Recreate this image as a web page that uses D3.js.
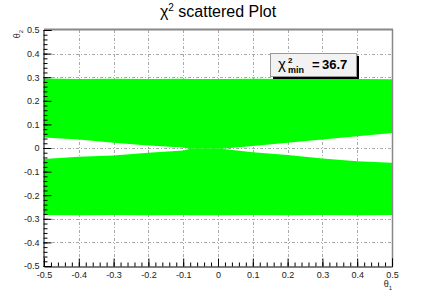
<!DOCTYPE html>
<html>
<head>
<meta charset="utf-8">
<script src="https://cdn.jsdelivr.net/npm/d3@7"></script>
<style>
  html, body { margin: 0; padding: 0; background: #fff; }
  svg { display: block; font-family: "Liberation Sans", Arial, sans-serif; }
</style>
</head>
<body>
<svg id="chart" width="436" height="297"></svg>
<script>
// ---- data ----
const theta1      = [-0.5, -0.4, -0.3, -0.2, -0.1, -0.08, 0.01, 0.1, 0.2, 0.3, 0.4, 0.5];
const upperTop    = [0.294, 0.292, 0.293, 0.292, 0.293, 0.292, 0.292, 0.293, 0.292, 0.293, 0.292, 0.291];
const upperLow    = [0.044, 0.036, 0.022, 0.011, 0.002, -0.003, -0.003, 0.008, 0.022, 0.036, 0.050, 0.064];
const lowerHigh   = [-0.047, -0.037, -0.032, -0.020, -0.011, -0.003, -0.003, -0.018, -0.030, -0.044, -0.056, -0.063];
const lowerBottom = [-0.284, -0.285, -0.284, -0.285, -0.284, -0.285, -0.285, -0.284, -0.285, -0.284, -0.285, -0.284];
const majorTicks  = [-0.5, -0.4, -0.3, -0.2, -0.1, 0, 0.1, 0.2, 0.3, 0.4, 0.5];
const chiMin      = "36.7";
const titleText   = "scattered Plot";

// ---- layout ----
const svg = d3.select("#chart");
const X0 = 44, X1 = 392, Y0 = 30, Y1 = 266;
const x = d3.scaleLinear().domain([-0.5, 0.5]).range([X0, X1]);
const y = d3.scaleLinear().domain([-0.5, 0.5]).range([Y1, Y0]);
const fmt = d => { const v = Math.round(d * 10) / 10; return v === 0 ? "0" : String(v); };
const minorTicks = d3.range(-50, 51, 2).map(v => v / 100);

// grid
const grid = svg.append("g").attr("stroke", "#aaa").attr("stroke-width", 1)
  .attr("stroke-dasharray", "3,2,1,2");
majorTicks.slice(1, -1).forEach(t => {
  grid.append("line").attr("x1", Math.round(x(t)) + 0.5).attr("x2", Math.round(x(t)) + 0.5)
    .attr("y1", Y0).attr("y2", Y1);
  grid.append("line").attr("y1", Math.round(y(t)) + 0.5).attr("y2", Math.round(y(t)) + 0.5)
    .attr("x1", X0).attr("x2", X1);
});

// bands
const rows = theta1.map((t, i) => ({ t, ut: upperTop[i], ul: upperLow[i], lh: lowerHigh[i], lb: lowerBottom[i] }));
const upper = d3.area().x(d => x(d.t)).y0(d => y(d.ul)).y1(d => y(d.ut));
const lower = d3.area().x(d => x(d.t)).y0(d => y(d.lb)).y1(d => y(d.lh));
svg.append("path").datum(rows).attr("d", upper).attr("fill", "#00ff00");
svg.append("path").datum(rows).attr("d", lower).attr("fill", "#00ff00");

// frame (top/right)
svg.append("line").attr("x1", X0).attr("x2", X1 + 1).attr("y1", Y0 - 0.5).attr("y2", Y0 - 0.5)
  .attr("stroke", "#888").attr("stroke-width", 2);
svg.append("line").attr("x1", X1 + 0.5).attr("x2", X1 + 0.5).attr("y1", Y0 - 1).attr("y2", Y1)
  .attr("stroke", "#888").attr("stroke-width", 1.5);

// axes
const xAxis = svg.append("g").attr("transform", `translate(0,${Y1 + 0.5})`)
  .call(d3.axisBottom(x).tickValues(majorTicks).tickSize(-8).tickPadding(3).tickFormat(fmt));
svg.append("g").attr("transform", `translate(0,${Y1 + 0.5})`)
  .call(d3.axisBottom(x).tickValues(minorTicks).tickSize(-4).tickFormat(""))
  .select(".domain").remove();
const yAxis = svg.append("g").attr("transform", `translate(${X0 - 0.5},0)`)
  .call(d3.axisLeft(y).tickValues(majorTicks).tickSize(-8).tickPadding(4).tickFormat(fmt));
svg.append("g").attr("transform", `translate(${X0 - 0.5},0)`)
  .call(d3.axisLeft(y).tickValues(minorTicks).tickSize(-4).tickFormat(""))
  .select(".domain").remove();
svg.selectAll(".domain").attr("stroke", "#000");
svg.selectAll(".tick line").attr("stroke", "#000");
svg.selectAll(".tick text").attr("font-family", "Liberation Sans, Arial, sans-serif")
  .attr("font-size", 9).attr("fill", "#222");
xAxis.selectAll(".tick text").attr("dy", "0.9em");

// axis titles
const t1 = svg.append("text").attr("x", X1).attr("y", 287).attr("text-anchor", "end")
  .attr("font-size", 9).attr("fill", "#222");
t1.append("tspan").text("θ");
t1.append("tspan").attr("dy", 3).attr("font-size", 6).text("1");
const t2 = svg.append("text").attr("transform", `translate(20,${Y0}) rotate(-90)`)
  .attr("text-anchor", "end").attr("font-size", 9).attr("fill", "#222");
t2.append("tspan").text("θ");
t2.append("tspan").attr("dy", 3).attr("font-size", 6).text("2");

// title
const title = svg.append("text").attr("x", 218).attr("y", 17).attr("text-anchor", "middle")
  .attr("font-size", 16).attr("fill", "#000");
title.append("tspan").text("χ");
title.append("tspan").attr("dy", -6).attr("font-size", 10).text("2");
title.append("tspan").attr("dy", 6).text(" " + titleText);

// stat box
const bx = 270, by = 53, bw = 86, bh = 23;
svg.append("rect").attr("x", bx + 3).attr("y", by + 3).attr("width", bw).attr("height", bh).attr("fill", "#000");
svg.append("rect").attr("x", bx + 0.5).attr("y", by + 0.5).attr("width", bw).attr("height", bh)
  .attr("fill", "#f2f2f2").attr("stroke", "#999");
const lg = svg.append("g").attr("font-weight", "bold").attr("fill", "#000");
lg.append("text").attr("x", 278).attr("y", 69).attr("font-size", 15).attr("font-weight", "normal").text("χ");
lg.append("text").attr("x", 288).attr("y", 63).attr("font-size", 8).text("2");
lg.append("text").attr("x", 288).attr("y", 73).attr("font-size", 9).text("min");
lg.append("text").attr("x", 312).attr("y", 69).attr("font-size", 13).text("=");
lg.append("text").attr("x", 322).attr("y", 69).attr("font-size", 13).text(chiMin);
</script>
</body>
</html>
